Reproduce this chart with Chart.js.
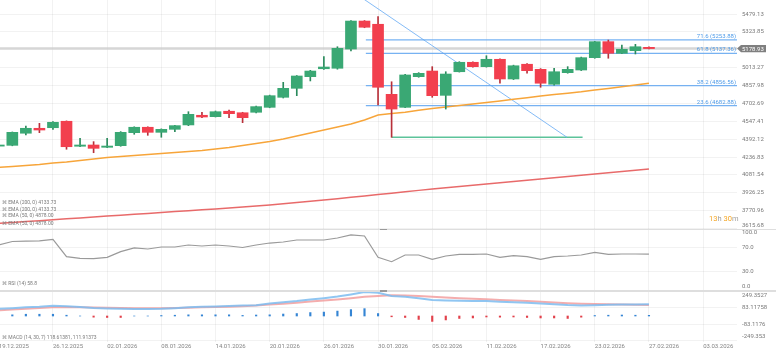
<!DOCTYPE html>
<html><head><meta charset="utf-8">
<script src="https://cdn.jsdelivr.net/npm/chart.js@4.4.1/dist/chart.umd.min.js"></script>
<style>
html,body{margin:0;padding:0;background:#fff;width:776px;height:353px;overflow:hidden;font-family:Roboto,"Liberation Sans",sans-serif;}
canvas{position:absolute;left:0;}
.leg{position:absolute;left:2px;font-size:5px;line-height:6px;color:#7a7a7a;white-space:nowrap;z-index:3;}
.sep{position:absolute;left:0;width:776px;background:#dedede;z-index:3;}
.handle{position:absolute;left:380px;width:7px;height:1.5px;background:#9a9a9a;z-index:3;}
</style></head><body>
<canvas id="cP" width="776" height="240" style="top:0"></canvas>
<canvas id="cM" width="776" height="63" style="top:290px"></canvas>
<canvas id="cR" width="776" height="70" style="top:229px;z-index:2"></canvas>
<div class="sep" style="top:228.5px;height:1px"></div>
<div class="sep" style="top:290px;height:1.5px"></div>
<div class="handle" style="top:228.5px"></div>
<div class="handle" style="top:290px"></div>
<div class="leg" style="top:199.3px">⌘ EMA (200, 0) 4133.73</div>
<div class="leg" style="top:206.3px">⌘ EMA (200, 0) 4133.73</div>
<div class="leg" style="top:212.3px">⌘ EMA (50, 0) 4878.00</div>
<div class="leg" style="top:219.7px">⌘ EMA (50, 0) 4878.00</div>
<div class="leg" style="top:280.3px">⌘ RSI (14) 58.8</div>
<div class="leg" style="top:333.7px">⌘ MACD (14, 30, 7) 118.61381, 111.91373</div>
<div style="position:absolute;left:709px;top:213.5px;font-size:7.5px;line-height:9px;color:#a0a0a0;white-space:nowrap;z-index:3"><span style="color:#f5a623">13</span>h <span style="color:#f5a623">30</span>m</div>
<script>
// ---------- DATA ----------
const dates = ['19.12.2025','22.12.2025','23.12.2025','24.12.2025','26.12.2025','29.12.2025','30.12.2025','31.12.2025',
 '02.01.2026','05.01.2026','06.01.2026','07.01.2026','08.01.2026','09.01.2026','12.01.2026','13.01.2026',
 '14.01.2026','15.01.2026','16.01.2026','19.01.2026','20.01.2026','21.01.2026','22.01.2026','23.01.2026',
 '26.01.2026','27.01.2026','28.01.2026','29.01.2026','30.01.2026','02.02.2026','03.02.2026','04.02.2026',
 '05.02.2026','06.02.2026','09.02.2026','10.02.2026','11.02.2026','12.02.2026','13.02.2026','16.02.2026',
 '17.02.2026','18.02.2026','19.02.2026','20.02.2026','23.02.2026','24.02.2026','25.02.2026','26.02.2026','27.02.2026'];
const open  = [4332,4339,4444,4487,4492,4548,4331,4342,4322,4336,4449,4496,4452,4478,4516,4600,4588,4635,4622,4626,4669,4756,4834,4935,5004,5008,5175,5418,5390,4782,4669,4935,4984,4773,4978,5060,5022,5086,4915,5043,4999,4869,4970,4993,5100,5239,5138,5161,5190];
const high  = [4352,4455,4507,4530,4546,4551,4400,4371,4400,4458,4500,4500,4482,4512,4631,4626,4637,4646,4626,4680,4775,4886,4945,4990,5109,5195,5422,5422,5456,4891,4955,4970,5022,4978,5065,5063,5117,5090,5035,5048,5005,5008,5022,5105,5242,5253,5210,5216,5195];
const low   = [4325,4335,4429,4449,4478,4305,4327,4275,4318,4331,4435,4426,4409,4457,4510,4579,4585,4579,4536,4620,4665,4750,4770,4898,4998,5000,5158,5360,4689,4409,4665,4930,4756,4654,4975,5018,5018,4878,4910,4965,4843,4862,4965,4988,5095,5095,5134,5132,5175];
const close = [4342,4452,4487,4472,4539,4327,4342,4313,4333,4452,4496,4452,4478,4510,4608,4585,4631,4614,4579,4675,4770,4834,4941,4984,5019,5181,5418,5364,4843,4654,4950,4964,4770,4958,5060,5022,5086,4915,5030,4987,4878,4978,4999,5100,5239,5138,5173,5195,5178.93];
const ema50 = [4147,4155,4164,4173,4186,4194,4207,4220,4233,4242,4251,4260,4268,4277,4286,4294,4307,4320,4338,4355,4372,4394,4420,4446,4472,4498,4524,4559,4602,4615,4626,4643,4659,4672,4685,4698,4711,4724,4739,4752,4767,4780,4792,4804,4819,4832,4847,4863,4878.00];
const ema200 = [3662,3670,3677,3685,3693,3701,3709,3717,3726,3733,3741,3748,3756,3764,3771,3779,3786,3795,3804,3812,3821,3832,3843,3854,3864,3876,3888,3900,3912,3924,3936,3948,3960,3971,3982,3993,4003,4014,4025,4036,4047,4058,4069,4080,4090,4101,4112,4123,4133.73];
const rsi = [73.8,79.5,80,80.5,83,54.6,52,51.5,53.5,62.8,68.9,67.2,70.5,70.5,73.8,72.1,73.8,72.1,69.7,73.8,77,78.7,82,82,82,85.2,90.2,88.5,53.6,46.4,57.4,57.4,50.3,55.7,58.5,58.5,59,53.6,56.2,54.6,50.3,54.6,55.7,57.4,61.8,58.5,59,59,58.8];
const macd = [73,80,88,94,105,100,92,82,77,74,72,72,73,80,88,94,98,103,107,110,128,140,152,168,182,198,220,245,236,205,195,180,163,158,156,154,152,145,140,136,128,120,112,108,110,114,116,118,118.61381];
const signal = [59,66,74,82,90,92,90,87,84,82,80,79,80,82,85,88,91,95,100,106,117,125,135,147,158,168,180,195,205,212,210,205,195,188,182,176,170,164,158,152,146,138,131,126,122,119,116,114,111.91373];
const hist = [8,12,18,18,18,8,0,-12,-15,-15,0,0,5,8,12,12,12,12,6,10,12,20,25,35,40,50,65,75,25,-8,-15,-35,-55,-40,-25,-20,-10,-12,-10,-15,-20,-20,-25,-12,5,8,10,8,7];
// x-axis date labels (one every 4 candles, last one in the future)
const tickDates = ['19.12.2025','26.12.2025','02.01.2026','08.01.2026','14.01.2026','20.01.2026','26.01.2026','30.01.2026','05.02.2026','11.02.2026','17.02.2026','23.02.2026','27.02.2026','03.03.2026'];
const candlesPerTick = 4;
// right axis tick labels
const priceTicks = [5479.13,5323.85,5013.27,4857.98,4702.69,4547.41,4392.12,4236.83,4081.54,3926.25,3770.96,3615.68];
const rsiTicks = [100,70,30,0];
const rsiTickLabels = ['100.0','70.0','30.0','0.0'];
const macdTicks = [249.3527,83.11758,-83.1176,-249.353];
const macdTickLabels = ['249.3527','83.11758','-83.1176','-249.353'];
// drawing tools
const fibNames = ['71.6','61.8','38.2','23.6'];
const fibLevels = [5253.88,5137.36,4856.56,4682.88];
const fibStart = 27.1;
const trendLine = [[26.8,5620],[41.95,4408.7]];
const supportLine = [[29,4408.7],[43.1,4408.7]];

// ---------- CHART SETUP ----------
const FONT = 'Roboto, "Liberation Sans", sans-serif';
const GRID = 'rgba(0,0,0,0.05)';
const XMIN = 0.09, XMAX = 54.5;
const GREEN = '#3aa874', RED = '#f23f4e', GREEN_W = '#2a8a5c', RED_W = '#b8303a';
const idx = close.map((_, i) => i);
const tickIdx = tickDates.map((_, k) => k * candlesPerTick);
const pts = arr => arr.map((v, i) => ({x: i, y: v}));
const seg = p => p.map(q => ({x: q[0], y: q[1]}));
// labels at the panel edges are nudged inward (first / last line empty)
const edgeLabel = (labels, shiftTop) => (v, i) => {
  const t = labels[i];
  return (i === 0 && shiftTop) ? ['', t] : i === labels.length - 1 ? [t, ''] : t;
};

function xScale(show) {
  return {
    type: 'linear', min: XMIN, max: XMAX, offset: false,
    afterBuildTicks: s => { s.ticks = tickIdx.map(v => ({value: v})); },
    afterFit: s => { s.height = show ? 11 : 0; s.paddingLeft = 0; s.paddingRight = 0; },
    grid: {color: GRID, drawTicks: false, offset: false},
    border: {display: false},
    ticks: {display: show, autoSkip: false, maxRotation: 0, minRotation: 0, align: 'start', padding: 1,
      color: '#858585', font: {size: 6, family: FONT},
      callback: v => { const k = tickIdx.indexOf(v); return k >= 0 ? tickDates[k] : ''; }}
  };
}
function yScale(min, max, ticks, labelFn) {
  return {
    position: 'right', min, max,
    afterBuildTicks: s => { s.ticks = ticks.map(v => ({value: v})); },
    afterFit: s => { s.width = 39; s.paddingTop = 0; s.paddingBottom = 0; },
    grid: {color: GRID, drawTicks: false},
    border: {display: false},
    ticks: {padding: 5, color: '#7a7a7a', font: {size: 6, family: FONT}, autoSkip: false, callback: labelFn}
  };
}
const common = {responsive: false, animation: false, events: [],
  plugins: {legend: {display: false}, tooltip: {enabled: false}}};

const priceOverlay = {
  id: 'priceOverlay',
  afterDraw(chart) {
    const {ctx, chartArea: a, scales: {y}} = chart;
    ctx.save();
    ctx.font = '6px ' + FONT;
    ctx.fillStyle = '#4f9be8';
    ctx.textAlign = 'right'; ctx.textBaseline = 'alphabetic';
    fibLevels.forEach((lv, k) => {
      const py = y.getPixelForValue(lv);
      ctx.fillText(fibNames[k] + ' (' + lv.toFixed(2) + ')', a.right - 1, py - 2);
    });
    const last = close[close.length - 1];
    const py = y.getPixelForValue(last);
    ctx.fillStyle = '#7f7f7f';
    ctx.beginPath();
    ctx.moveTo(a.right, py); ctx.lineTo(a.right + 4, py - 3.6); ctx.lineTo(a.right + 29, py - 3.6);
    ctx.lineTo(a.right + 29, py + 3.6); ctx.lineTo(a.right + 4, py + 3.6); ctx.closePath(); ctx.fill();
    ctx.fillStyle = '#ffffff'; ctx.textAlign = 'left'; ctx.textBaseline = 'middle';
    ctx.fillText(last.toFixed(2), a.right + 5, py + 0.5);
    ctx.restore();
  }
};

const lineDs = (data, color, width, order) => ({type: 'line', data, borderColor: color, borderWidth: width,
  pointRadius: 0, tension: 0, fill: false, order});

new Chart(document.getElementById('cP'), {
  type: 'bar',
  data: {datasets: [
    {type: 'bar', data: idx.map(i => ({x: i, y: [open[i], close[i]]})), grouped: false, barThickness: 11, minBarLength: 1,
      backgroundColor: idx.map(i => close[i] >= open[i] ? GREEN : RED), borderWidth: 0, order: 0},
    {type: 'bar', data: idx.map(i => ({x: i, y: [low[i], high[i]]})), grouped: false, barThickness: 1,
      backgroundColor: idx.map(i => close[i] >= open[i] ? GREEN_W : RED_W), borderWidth: 0, order: 1},
    lineDs(pts(ema50), '#f7a53a', 1.5, 2),
    lineDs(pts(ema200), 'rgba(228,80,80,0.85)', 1.5, 3),
    ...fibLevels.map(lv => lineDs([{x: fibStart, y: lv}, {x: XMAX, y: lv}], 'rgba(95,165,240,0.85)', 1.2, 4)),
    lineDs(seg(trendLine), 'rgba(110,175,245,0.85)', 1, 5),
    lineDs(seg(supportLine), '#5cc39a', 1.5, 6),
    lineDs([{x: XMIN, y: close[close.length - 1]}, {x: XMAX, y: close[close.length - 1]}], 'rgba(200,200,200,0.75)', 2.5, 7)
  ]},
  options: {...common, layout: {padding: {left: 0, right: 0, top: 0, bottom: 11}},
    scales: {x: xScale(false),
      y: yScale(3612.7, 5600.7, priceTicks, edgeLabel(priceTicks.map(v => v.toFixed(2)), false))}},
  plugins: [priceOverlay]
});

new Chart(document.getElementById('cR'), {
  type: 'line',
  data: {datasets: [lineDs(pts(rsi), '#9a9a9a', 1.2, 0)]},
  options: {...common, layout: {padding: {left: 0, right: 0, top: 0, bottom: 9}},
    scales: {x: xScale(false),
      y: yScale(0, 100, rsiTicks, edgeLabel(rsiTickLabels, true))}}
});

new Chart(document.getElementById('cM'), {
  type: 'bar',
  data: {datasets: [
    lineDs(pts(macd), 'rgba(125,188,240,0.85)', 2, 0),
    lineDs(pts(signal), 'rgba(240,145,145,0.75)', 2, 1),
    {type: 'bar', data: pts(hist), grouped: false, barThickness: 1.5,
      backgroundColor: hist.map(v => v >= 0 ? '#3585d4' : '#e2414b'), borderWidth: 0, order: 2}
  ]},
  options: {...common, layout: {padding: 0},
    scales: {x: xScale(true),
      y: yScale(-265, 265, macdTicks, edgeLabel(macdTickLabels, true))}}
});
</script>
</body></html>
